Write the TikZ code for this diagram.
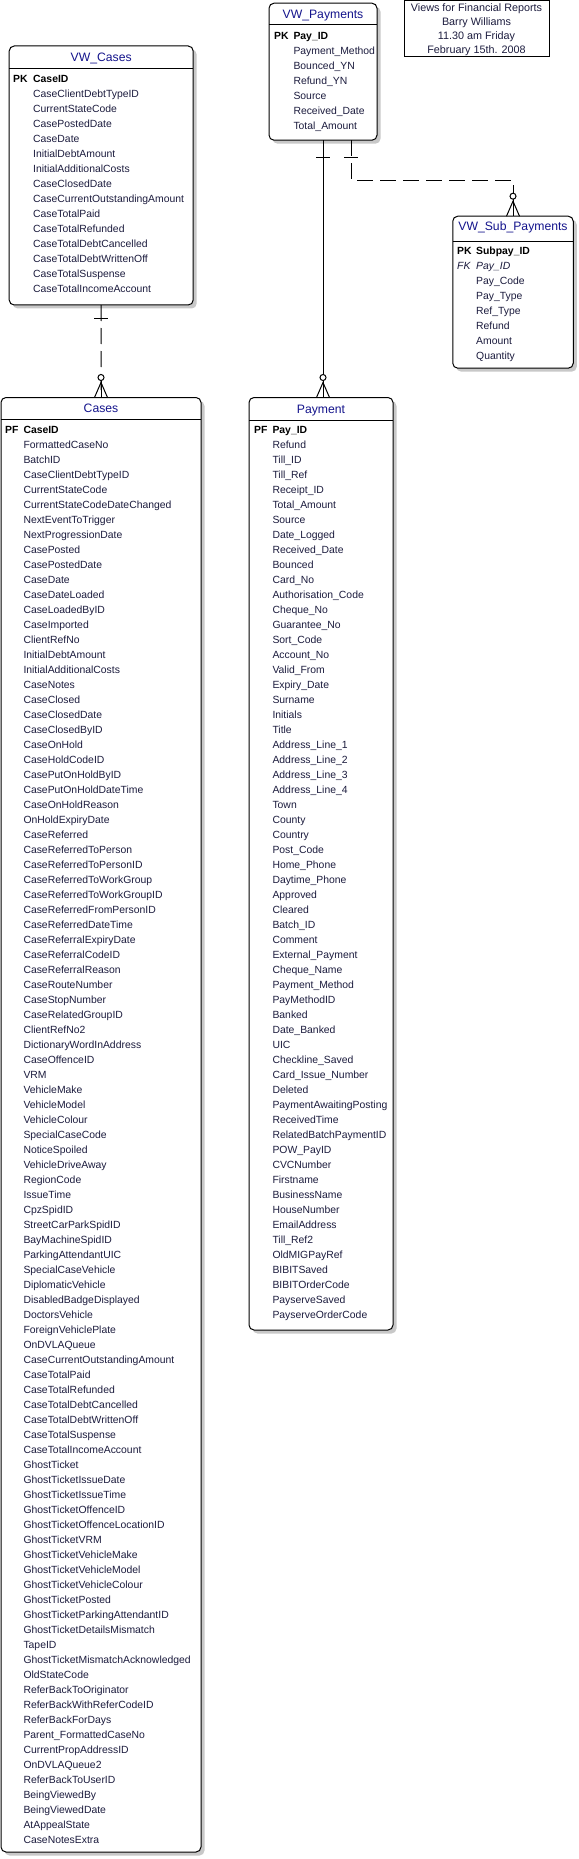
\documentclass[tikz,border=0pt]{standalone}
\usepackage{fontspec}
\setmainfont{Liberation Sans}
\usetikzlibrary{shadows}

\definecolor{titleblue}{RGB}{20,20,140}
\definecolor{attrtext}{RGB}{28,28,62}
\definecolor{shadowgrey}{RGB}{200,200,200}

\tikzset{
  entity/.style={draw, line width=1pt, rounded corners=5pt, fill=white,
    inner sep=0pt, outer sep=0pt,
    drop shadow={shadow xshift=3.5pt, shadow yshift=-3.5pt, fill=shadowgrey, opacity=1}},
  etitle/.style={anchor=base, inner sep=0pt, text=titleblue,
    font=\fontsize{12.2}{14}\selectfont},
  attr/.style={anchor=base west, inner sep=0pt, text=attrtext,
    font=\fontsize{10.4}{12}\selectfont},
  keyattr/.style={attr, text=black, font=\fontsize{10.4}{12}\selectfont\bfseries},
  fkattr/.style={attr, font=\fontsize{10.4}{12}\selectfont\itshape},
  relline/.style={line width=1pt},
  optline/.style={relline, dash pattern=on 16pt off 7pt},
}

\begin{document}
\begin{tikzpicture}[x=1pt, y=-1pt]
\useasboundingbox (0,0) rectangle (578,1859);

% boxes
\node[entity, minimum width=184pt, minimum height=259pt] (vwcases) at (101.2,175.5) {};
\node[entity, minimum width=108pt, minimum height=137pt] (vwpay) at (323,71.7) {};
\node[entity, minimum width=120.5pt, minimum height=152pt] (vwsub) at (513,292.2) {};
\node[entity, minimum width=200pt, minimum height=1454.5pt] (cases) at (101,1124.75) {};
\node[entity, minimum width=144pt, minimum height=932.5pt] (payment) at (321,863.75) {};

\node[draw, line width=1pt, inner sep=0pt, minimum width=145pt, minimum height=56.5pt] (info) at (476.5,28.75) {};
\node[align=center, inner sep=0pt, text=attrtext, font=\fontsize{10.8}{14}\selectfont] (infotext) at (476.5,30) {Views for Financial Reports\\Barry Williams\\11.30 am Friday\\February 15th. 2008};

% VW_Cases
\node[etitle] (vwcT) at (vwcases.north |- 0,61.5) {VW\_Cases};
\draw[relline] (vwcases.west |- 0,68.3) -- (vwcases.east |- 0,68.3);
\node[keyattr] (vwcPK) at (13,82.5) {PK};
\node[keyattr] (vwc0) at (33,82.5) {CaseID};
\foreach \f [count=\i] in {CaseClientDebtTypeID, CurrentStateCode, CasePostedDate, CaseDate,
  InitialDebtAmount, InitialAdditionalCosts, CaseClosedDate, CaseCurrentOutstandingAmount,
  CaseTotalPaid, CaseTotalRefunded, CaseTotalDebtCancelled, CaseTotalDebtWrittenOff,
  CaseTotalSuspense, CaseTotalIncomeAccount}
  \node[attr] (vwc\i) at (33,82.5+15*\i) {\f};

% VW_Payments
\node[etitle] (vwpT) at (vwpay.north |- 0,18.5) {VW\_Payments};
\draw[relline] (vwpay.west |- 0,25) -- (vwpay.east |- 0,25);
\node[keyattr] (vwpPK) at (274,39.5) {PK};
\node[keyattr] (vwp0) at (293.3,39.5) {Pay\_ID};
\foreach \f [count=\i] in {Payment\_Method, Bounced\_YN, Refund\_YN, Source, Received\_Date, Total\_Amount}
  \node[attr] (vwp\i) at (293.3,39.5+15*\i) {\f};

% VW_Sub_Payments
\node[etitle] (vwsT) at (vwsub.north |- 0,230.5) {VW\_Sub\_Payments};
\draw[relline] (vwsub.west |- 0,241.7) -- (vwsub.east |- 0,241.7);
\node[keyattr] (vwsPK) at (457,254.5) {PK};
\node[keyattr] (vws0) at (476,254.5) {Subpay\_ID};
\node[fkattr] (vwsFK) at (457,269.5) {FK};
\node[fkattr] (vwsF) at (476,269.5) {Pay\_ID};
\foreach \f [count=\i] in {Pay\_Code, Pay\_Type, Ref\_Type, Refund, Amount, Quantity}
  \node[attr] (vws\i) at (476,269.5+15*\i) {\f};

% Cases
\node[etitle] (csT) at (cases.north |- 0,412) {Cases};
\draw[relline] (cases.west |- 0,419.5) -- (cases.east |- 0,419.5);
\node[keyattr] (csPF) at (5,433) {PF};
\node[keyattr] (cs0) at (23.3,433) {CaseID};
\foreach \f [count=\i] in {FormattedCaseNo, BatchID, CaseClientDebtTypeID, CurrentStateCode,
  CurrentStateCodeDateChanged, NextEventToTrigger, NextProgressionDate, CasePosted,
  CasePostedDate, CaseDate, CaseDateLoaded, CaseLoadedByID, CaseImported, ClientRefNo,
  InitialDebtAmount, InitialAdditionalCosts, CaseNotes, CaseClosed, CaseClosedDate,
  CaseClosedByID, CaseOnHold, CaseHoldCodeID, CasePutOnHoldByID, CasePutOnHoldDateTime,
  CaseOnHoldReason, OnHoldExpiryDate, CaseReferred, CaseReferredToPerson,
  CaseReferredToPersonID, CaseReferredToWorkGroup, CaseReferredToWorkGroupID,
  CaseReferredFromPersonID, CaseReferredDateTime, CaseReferralExpiryDate, CaseReferralCodeID,
  CaseReferralReason, CaseRouteNumber, CaseStopNumber, CaseRelatedGroupID, ClientRefNo2,
  DictionaryWordInAddress, CaseOffenceID, VRM, VehicleMake, VehicleModel, VehicleColour,
  SpecialCaseCode, NoticeSpoiled, VehicleDriveAway, RegionCode, IssueTime, CpzSpidID,
  StreetCarParkSpidID, BayMachineSpidID, ParkingAttendantUIC, SpecialCaseVehicle,
  DiplomaticVehicle, DisabledBadgeDisplayed, DoctorsVehicle, ForeignVehiclePlate, OnDVLAQueue,
  CaseCurrentOutstandingAmount, CaseTotalPaid, CaseTotalRefunded, CaseTotalDebtCancelled,
  CaseTotalDebtWrittenOff, CaseTotalSuspense, CaseTotalIncomeAccount, GhostTicket,
  GhostTicketIssueDate, GhostTicketIssueTime, GhostTicketOffenceID,
  GhostTicketOffenceLocationID, GhostTicketVRM, GhostTicketVehicleMake,
  GhostTicketVehicleModel, GhostTicketVehicleColour, GhostTicketPosted,
  GhostTicketParkingAttendantID, GhostTicketDetailsMismatch, TapeID,
  GhostTicketMismatchAcknowledged, OldStateCode, ReferBackToOriginator,
  ReferBackWithReferCodeID, ReferBackForDays, Parent\_FormattedCaseNo, CurrentPropAddressID,
  OnDVLAQueue2, ReferBackToUserID, BeingViewedBy, BeingViewedDate, AtAppealState,
  CaseNotesExtra}
  \node[attr] (cs\i) at (23.3,433+15*\i) {\f};

% Payment
\node[etitle] (payT) at (payment.north |- 0,413.5) {Payment};
\draw[relline] (payment.west |- 0,420.5) -- (payment.east |- 0,420.5);
\node[keyattr] (payPF) at (254,433) {PF};
\node[keyattr] (pay0) at (272.3,433) {Pay\_ID};
\foreach \f [count=\i] in {Refund, Till\_ID, Till\_Ref, Receipt\_ID, Total\_Amount, Source,
  Date\_Logged, Received\_Date, Bounced, Card\_No, Authorisation\_Code, Cheque\_No,
  Guarantee\_No, Sort\_Code, Account\_No, Valid\_From, Expiry\_Date, Surname, Initials, Title,
  Address\_Line\_1, Address\_Line\_2, Address\_Line\_3, Address\_Line\_4, Town, County,
  Country, Post\_Code, Home\_Phone, Daytime\_Phone, Approved, Cleared, Batch\_ID, Comment,
  External\_Payment, Cheque\_Name, Payment\_Method, PayMethodID, Banked, Date\_Banked, UIC,
  Checkline\_Saved, Card\_Issue\_Number, Deleted, PaymentAwaitingPosting, ReceivedTime,
  RelatedBatchPaymentID, POW\_PayID, CVCNumber, Firstname, BusinessName, HouseNumber,
  EmailAddress, Till\_Ref2, OldMIGPayRef, BIBITSaved, BIBITOrderCode, PayserveSaved,
  PayserveOrderCode}
  \node[attr] (pay\i) at (272.3,433+15*\i) {\f};

% relationships
\coordinate (payin) at (vwpay.south |- payment.north);
\coordinate (subout) at ([xshift=28pt]vwpay.south);
\draw[optline] (vwcases.south) -- (cases.north);
\draw[relline] (vwpay.south) -- (payin);
\draw[optline] (subout) |- ([yshift=36pt]vwsub.north) -- (vwsub.north);

% one ends
\foreach \s/\d in {vwcases.south/14, vwpay.south/17, subout/17}
  \draw[relline] ([xshift=-7pt,yshift=-\d pt]\s) -- ([xshift=7pt,yshift=-\d pt]\s);

% zero-or-many ends
\foreach \t in {cases.north, payin, vwsub.north} {
  \draw[relline] ([yshift=17pt]\t) -- (\t);
  \draw[relline] ([xshift=-6.5pt]\t) -- ([yshift=15pt]\t) -- ([xshift=6.5pt]\t);
  \draw[relline, fill=white] ([yshift=20pt]\t) circle (3pt);
}
\end{tikzpicture}
\end{document}
